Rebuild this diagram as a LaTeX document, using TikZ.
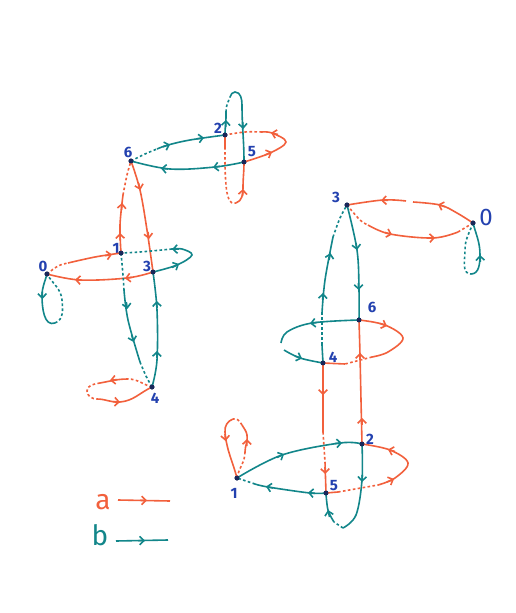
\documentclass[tikz,border=0pt]{standalone}
\usepackage{fontspec}
\setsansfont{Fira Sans}
\usetikzlibrary{arrows.meta}
\definecolor{ora}{RGB}{242,96,60}
\definecolor{tea}{RGB}{18,134,138}
\definecolor{lbl}{RGB}{35,65,175}
\definecolor{dotc}{RGB}{25,40,90}
\newcommand\arA[2]{\draw[ea,-{Straight Barb[length=4.2pt,width=8.5pt]}] (#1) -- (#2);}
\newcommand\arB[2]{\draw[eb,-{Straight Barb[length=4.2pt,width=8.5pt]}] (#1) -- (#2);}
\begin{document}
\begin{tikzpicture}[x=1pt,y=-1pt,
  ea/.style={draw=ora,line width=1.6pt},
  eb/.style={draw=tea,line width=1.6pt},
  hid/.style={dash pattern=on 2.6pt off 2.4pt},
  vtx/.style={circle,fill=dotc,inner sep=0pt,minimum size=5pt},
  lab/.style={text=lbl,font=\sffamily\bfseries\fontsize{15}{15}\selectfont,inner sep=0pt},
  ]
\fill[white] (0,0) rectangle (516,613);
\useasboundingbox (0,0) rectangle (516,613);

% ---------- left graph vertices
\node[vtx] (L6) at (131,161) {};
\node[vtx] (L2) at (225,135) {};
\node[vtx] (L5) at (244,162) {};
\node[vtx] (L1) at (121,253) {};
\node[vtx] (L3) at (153,272) {};
\node[vtx] (L0) at (47,274) {};
\node[vtx] (L4) at (152,387) {};
\node[lab] (tL6) at (128,152) {6};
\node[lab] (tL2) at (218,128) {2};
\node[lab] (tL5) at (252,152) {5};
\node[lab] (tL1) at (116,248) {1};
\node[lab] (tL3) at (147,266) {3};
\node[lab] (tL0) at (43,266) {0};
\node[lab] (tL4) at (155,398) {4};

% ---------- right graph vertices
\node[vtx] (R3) at (347,205) {};
\node[vtx] (R0) at (473,223) {};
\node[vtx] (R6) at (359,320) {};
\node[vtx] (R4) at (323,363) {};
\node[vtx] (R2) at (362,444) {};
\node[vtx] (R5) at (326,493) {};
\node[vtx] (R1) at (237,478) {};
\node[lab] (tR3) at (336,197) {3};
\node[lab,font=\sffamily\fontsize{24}{24}\selectfont] (tR0) at (486,217) {0};
\node[lab] (tR6) at (372,307) {6};
\node[lab] (tR4) at (333,357) {4};
\node[lab] (tR2) at (370,439) {2};
\node[lab] (tR5) at (334,486) {5};
\node[lab] (tR1) at (234,493) {1};

% ========== LEFT GRAPH EDGES
% b: 6 -> 2
\draw[eb,hid] plot[smooth,tension=0.6] coordinates {(L6.center) (145,154) (157,149)};
\draw[eb] plot[smooth,tension=0.6] coordinates {(157,149) (168,145) (190,140) (L2.center)};
\arB{163,146.8}{170,144.5} \arB{197,138.8}{204,137.7}
% b: 5 -> 6
\draw[eb] plot[smooth,tension=0.6] coordinates {(L5.center) (215,167) (170,169) (L6.center)};
\arB{220,166.3}{213,167.4} \arB{168,169}{161,168.4}
% b: 2 -> 5 (upper loop)
\draw[eb] (L2.center) to[out=90,in=-88] (226,112);
\draw[eb,hid] (226,112) to[out=92,in=-110] (230,97);
\draw[eb] (230,97) to[out=70,in=180] (235,92) to[out=0,in=90] (242,105) to[out=-90,in=90] (L5.center);
\arB{225.7,127}{226,120} \arB{242.7,122}{243.2,129}
% a: 5 -> 2 (right loop)
\draw[ea] plot[smooth,tension=0.6] coordinates {(L5.center) (270,153) (286,142) (272,133) (262,132)};
\draw[ea,hid] plot[smooth,tension=0.6] coordinates {(262,132) (245,132) (L2.center)};
\arA{265,155}{272,152} \arA{278,134.5}{271,132.8}
% a: 2 -> 5 (lower loop)
\draw[ea] (L2.center) -- (225,147);
\draw[ea,hid] (225,147) to[out=-90,in=95] (226,185) to[out=-85,in=200] (236,203);
\draw[ea] (236,203) to[out=20,in=-90] (243,188) to[out=90,in=-90] (L5.center);
\arA{242.6,196}{243,189}
% a: 6 -> 3
\draw[ea] plot[smooth,tension=0.6] coordinates {(L6.center) (140,190) (147,230) (L3.center)};
\arA{138.5,183}{140.3,190} \arA{148,232}{149,239}
% a: 1 -> 6
\draw[ea] plot[smooth,tension=0.6] coordinates {(L1.center) (120,225) (123,195)};
\draw[ea,hid] plot[smooth,tension=0.6] coordinates {(123,195) (127,175) (L6.center)};
\arA{120.2,240}{120,233} \arA{121.5,210}{122.2,203}
% a: 0 -> 1
\draw[ea,hid] plot[smooth,tension=0.6] coordinates {(L0.center) (58,266) (68,263)};
\draw[ea] plot[smooth,tension=0.6] coordinates {(68,263) (95,257) (L1.center)};
\arA{105,255.7}{112,254.5}
% a: 3 -> 0
\draw[ea] plot[smooth,tension=0.6] coordinates {(L3.center) (127,278) (80,280) (L0.center)};
\arA{132,277.3}{125,278.4} \arA{82,280.2}{75,279.8}
% b: 3 -> 1 (right loop)
\draw[eb] plot[smooth,tension=0.6] coordinates {(L3.center) (177,265) (192,255) (182,249) (172,249)};
\draw[eb,hid] plot[smooth,tension=0.6] coordinates {(172,249) (140,252) (L1.center)};
\arB{172,267.5}{179,264} \arB{179,249}{172,249.3}
% b: 1 -> 4
\draw[eb,hid] plot[smooth,tension=0.6] coordinates {(L1.center) (123,275) (124,290)};
\draw[eb] plot[smooth,tension=0.6] coordinates {(124,290) (128,320) (140,362)};
\draw[eb,hid] plot[smooth,tension=0.6] coordinates {(140,362) (146,376) (L4.center)};
\arB{126.3,302}{127.3,309} \arB{131.7,335}{133.6,342}
% b: 4 -> 3
\draw[eb] plot[smooth,tension=0.6] coordinates {(L4.center) (157,360) (157,310) (L3.center)};
\arB{156.8,358}{157,351} \arB{157,308}{156.8,301}
% b: 0 -> 0
\draw[eb] (L0.center) to[out=-105,in=90] (42,296) to[out=-90,in=200] (55,323);
\draw[eb,hid] (55,323) to[out=20,in=-85] (62,300) to[out=95,in=-60] (L0.center);
\arB{42.2,292}{42.3,299}
% a: 4 -> 4
\draw[ea,hid] (L4.center) to[out=165,in=0] (128,379);
\draw[ea] (128,379) to[out=180,in=10] (100,383);
\draw[ea,hid] (100,383) to[out=190,in=90] (87,391) to[out=-90,in=180] (97,399);
\draw[ea] (97,399) to[out=0,in=185] (120,402) to[out=5,in=205] (L4.center);
\arA{117,379.6}{110,380.3} \arA{113,401.6}{120,402}

% ========== RIGHT GRAPH EDGES
% a: 0 -> 3 (upper)
\draw[ea] plot[smooth,tension=0.6] coordinates {(R0.center) (457,213) (440,205) (413,202)};
\draw[ea] plot[smooth,tension=0.6] coordinates {(406,201) (383,200) (R3.center)};
\arA{445,206.8}{438,204.5} \arA{388,200.2}{381,200.4}
% a: 3 -> 0 (lower)
\draw[ea,hid] plot[smooth,tension=0.6] coordinates {(R3.center) (360,220) (368,225)};
\draw[ea] plot[smooth,tension=0.6] coordinates {(368,225) (390,234) (433,238) (458,232)};
\draw[ea,hid] (458,232) -- (R0.center);
\arA{385,232.5}{392,234.5} \arA{428,238.2}{435,237.8}
% b: 0 -> 0
\draw[eb,hid] (R0.center) to[out=-110,in=90] (465,250) to[out=-90,in=180] (471,274);
\draw[eb] (471,274) to[out=0,in=-90] (480,255) to[out=90,in=-75] (R0.center);
\arB{480.3,262}{480,255}
% b: 3 -> 6
\draw[eb] plot[smooth,tension=0.6] coordinates {(R3.center) (357,250) (359,290) (R6.center)};
\arB{356,243}{357,250} \arB{358.5,283}{358.6,290}
% b: 4 -> 3
\draw[eb] (R4.center) -- (322,345);
\draw[eb,hid] (322,345) -- (322,313);
\draw[eb] plot[smooth,tension=0.6] coordinates {(322,313) (325,280) (333,237)};
\draw[eb,hid] plot[smooth,tension=0.6] coordinates {(333,237) (340,218) (R3.center)};
\arB{322.7,300}{323,293} \arB{329,260}{330.5,253}
% b: 6 -> 4
\draw[eb] plot[smooth,tension=0.6] coordinates {(R6.center) (312,323) (287,332) (281,343)};
\draw[eb] plot[smooth,tension=0.6] coordinates {(284,350) (300,358) (R4.center)};
\arB{317,322.5}{310,323.4} \arB{295,356}{302,358.5}
% a: 6 -> 4
\draw[ea] plot[smooth,tension=0.6] coordinates {(R6.center) (385,325) (403,338) (388,352) (372,357)};
\draw[ea,hid] (372,357) -- (345,364);
\draw[ea] (345,364) -- (R4.center);
\arA{380,323.5}{387,326}
% a: 4 -> 5
\draw[ea] (R4.center) -- (323,432);
\draw[ea,hid] (323,432) -- (325,462);
\draw[ea] (325,462) -- (R5.center);
\arA{323,388}{323,395} \arA{325,467}{325.2,474}
% a: 2 -> 6
\draw[ea] plot[smooth,tension=0.6] coordinates {(R2.center) (361,400) (360,355) (R6.center)};
\arA{362,425}{362,418} \arA{360,360}{360,353}
% b: 1 -> 2
\draw[eb] plot[smooth,tension=0.6] coordinates {(R1.center) (282,455) (340,443) (R2.center)};
\arB{277,457.5}{284,454} \arB{335,443.5}{342,443}
% b: 5 -> 1
\draw[eb] plot[smooth,tension=0.6] coordinates {(R5.center) (310,493) (268,487) (255,484)};
\draw[eb,hid] (255,484) -- (R1.center);
\arB{315,493.3}{308,492.7} \arB{273,488}{266,486.5}
% b: 2 -> 5
\draw[eb] plot[smooth,tension=0.6] coordinates {(R2.center) (362,480) (356,515) (343,528)};
\draw[eb,hid] (343,528) -- (334,522);
\draw[eb] plot[smooth,tension=0.6] coordinates {(334,522) (328,510) (R5.center)};
\arB{362.3,475}{362,482} \arB{329.5,517}{328,510}
% a: 5 -> 2
\draw[ea] (R5.center) -- (338,492);
\draw[ea,hid] (338,492) -- (378,485);
\draw[ea] plot[smooth,tension=0.6] coordinates {(378,485) (395,478) (408,463) (390,450) (R2.center)};
\arA{387,482}{394,479} \arA{395,451.5}{388,449.5}
% a: 1 -> 1
\draw[ea,hid] (R1.center) to[out=80,in=-90] (245,452);
\draw[ea] (245,452) to[out=90,in=-80] (247,435) to[out=100,in=-60] (242,425);
\draw[ea,hid] (242,425) to[out=120,in=20] (233,419);
\draw[ea] (233,419) to[out=200,in=95] (225,432) to[out=-85,in=105] (R1.center);
\arA{246.8,446}{247,439} \arA{225,434}{225.6,441}

% redraw vertices on top
\foreach \v in {L6,L2,L5,L1,L3,L0,L4,R3,R0,R6,R4,R2,R5,R1} \fill[dotc] (\v.center) circle (2.4pt);

% ---------- legend
\node[text=ora,font=\sffamily\fontsize{28}{28}\selectfont,inner sep=0pt] (la) at (103,502) {a};
\node[text=tea,font=\sffamily\fontsize{28}{28}\selectfont,inner sep=0pt] (lb) at (100,535) {b};
\coordinate (la1) at (118,500);
\coordinate (la2) at (170,501);
\coordinate (lb1) at (116,541);
\coordinate (lb2) at (168,540);
\draw[ea] (la1) -- (la2);
\draw[eb] (lb1) -- (lb2);
\arA{140,500.4}{147,500.5} \arB{138,540.6}{145,540.5}
\end{tikzpicture}
\end{document}
